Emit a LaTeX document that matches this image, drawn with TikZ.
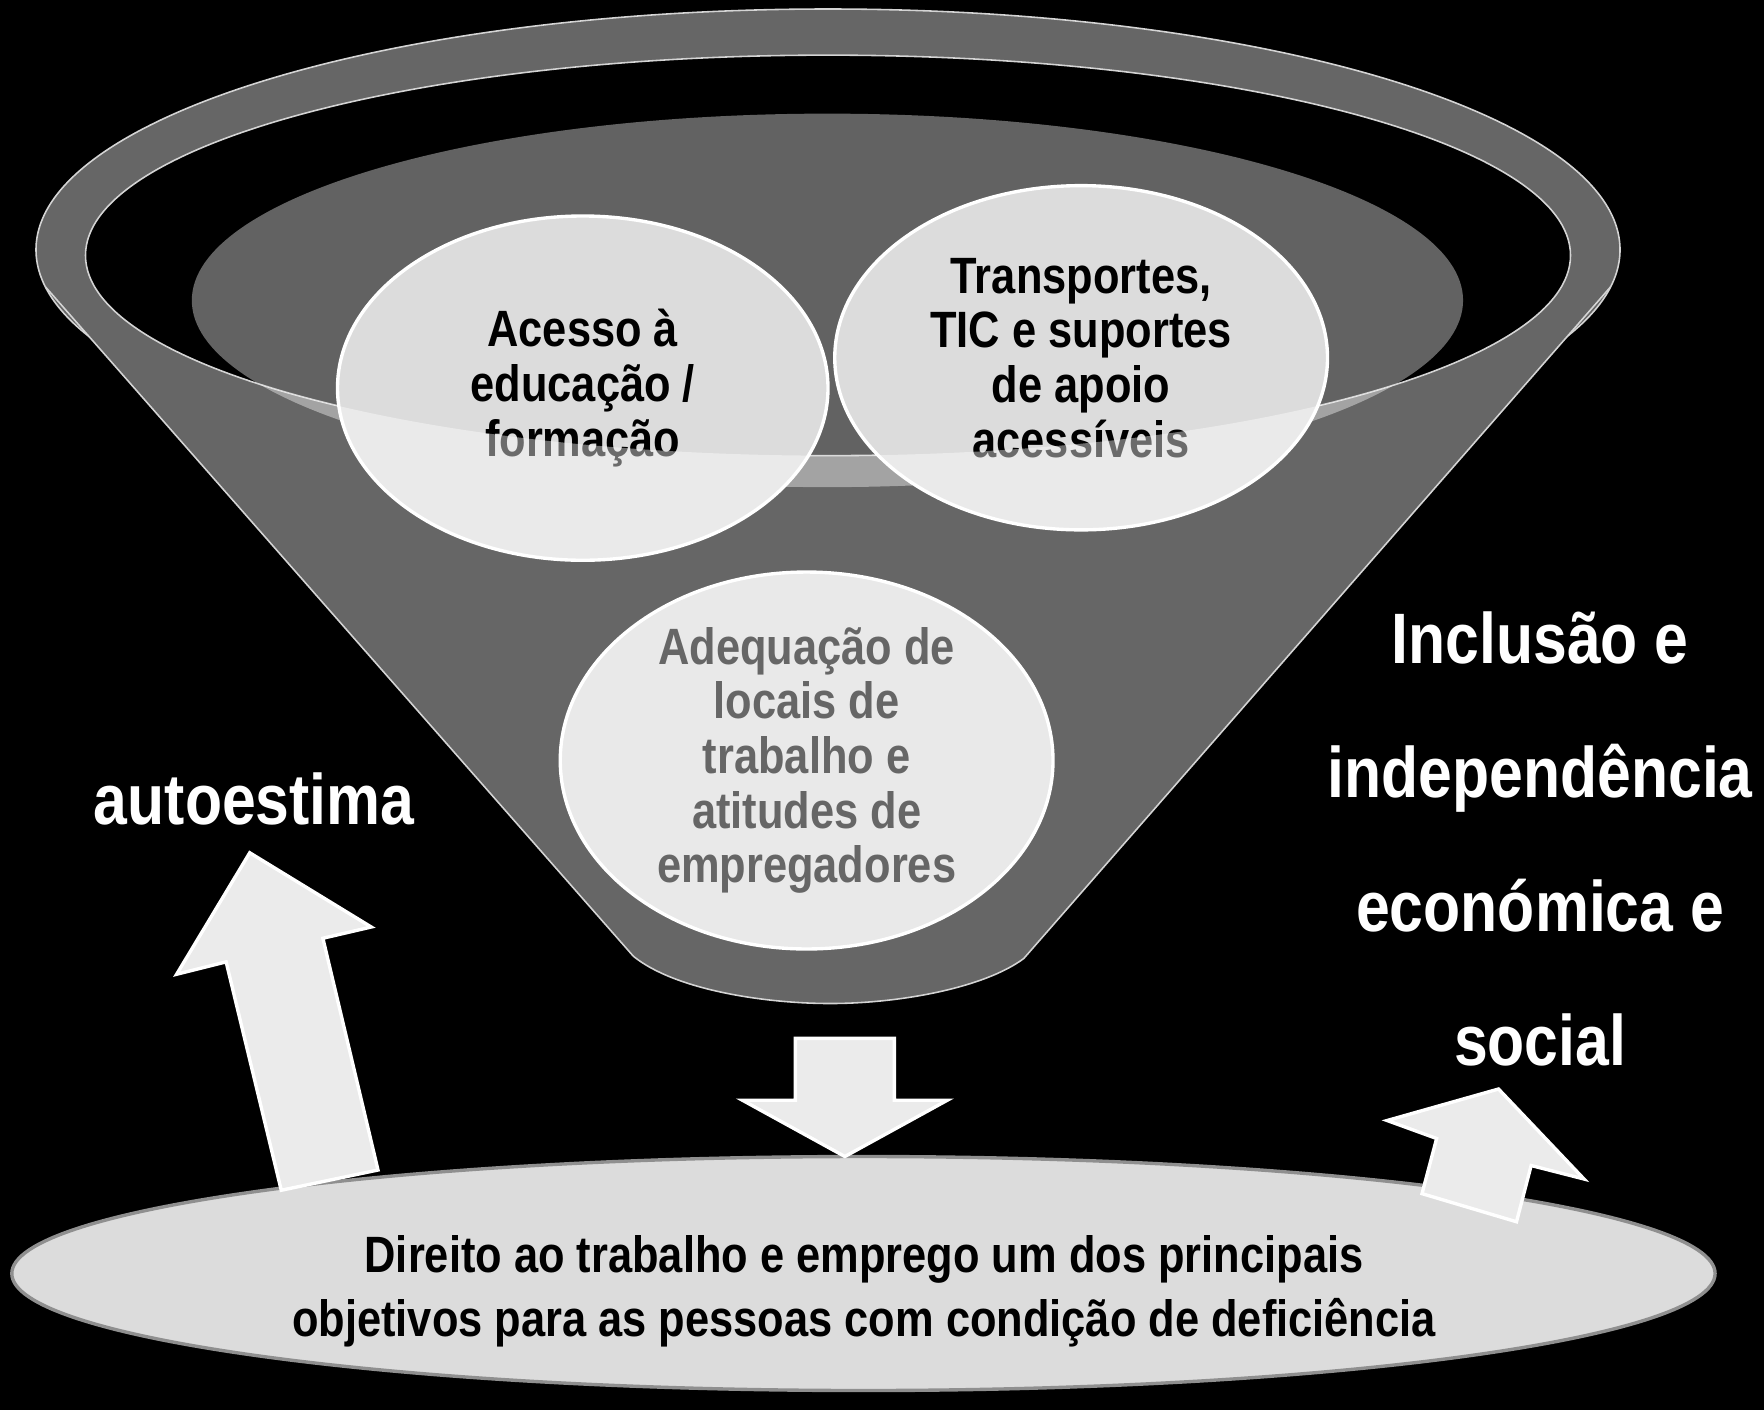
\documentclass[tikz,border=0pt]{standalone}
\usepackage{fontspec}
\setmainfont{Liberation Sans}[FakeStretch=0.85]
\usetikzlibrary{shapes.geometric}
\definecolor{funnelgray}{HTML}{666666}
\definecolor{rimline}{HTML}{D4D4D4}
\definecolor{innergray}{HTML}{626262}
\definecolor{bubblefill}{HTML}{DCDCDC}
\definecolor{bubblelight}{HTML}{E9E9E9}
\definecolor{basefill}{HTML}{DCDCDC}
\definecolor{baseline}{HTML}{8F8F8F}
\definecolor{arrowfill}{HTML}{EBEBEB}
\definecolor{softtext}{HTML}{666666}
\tikzset{
  rim/.style={draw=rimline, line width=0.7pt},
  bubble/.style={ellipse, draw=white, line width=1.5pt, fill=bubblefill, inner sep=0pt,
    align=center, text=black, font=\bfseries\fontsize{22.7}{24.3}\selectfont},
  blockarrow/.style={draw=white, line width=1.5pt, fill=arrowfill, line join=miter},
  biglabel/.style={text=white, align=center, font=\bfseries\fontsize{31.75}{59.5}\selectfont},
}
\begin{document}
\begin{tikzpicture}[x=0.5pt, y=-0.5pt]
\useasboundingbox (0,0) rectangle (1568,1253);
\fill[black] (0,0) rectangle (1568,1253);
% funnel rim and body
\fill[funnelgray] (736,222) ellipse [x radius=704, y radius=214];
\draw[rim] (736,222) ellipse [x radius=704, y radius=214];
\fill[funnelgray] (40.4,255) -- (563,850) .. controls (600,880) and (680,892) .. (738,892)
  .. controls (800,892) and (875,878) .. (910,852) -- (1431.6,255) -- cycle;
\draw[rim] (40.4,255) -- (563,850) .. controls (600,880) and (680,892) .. (738,892)
  .. controls (800,892) and (875,878) .. (910,852) -- (1431.6,255);
% opening
\fill[black] (736,227) ellipse [x radius=660, y radius=178];
\fill[innergray] (735.5,267) ellipse [x radius=565, y radius=166];
\draw[rim] (736,227) ellipse [x radius=660, y radius=178];
% bubbles
\node[bubble, minimum width=218pt, minimum height=153pt] (acesso) at (518,345)
  {Acesso à\\educação /\\formação};
\node[bubble, minimum width=219pt, minimum height=153pt] (transportes) at (961,318)
  {Transportes,\\TIC e suportes\\de apoio\\acessíveis};
% translucent front of the rim
\begin{scope}
  \clip (0,227) -- (76,227) arc [start angle=180, end angle=0, x radius=660, y radius=178]
    -- (1568,227) -- (1568,510) -- (0,510) -- cycle;
  \fill[white, fill opacity=0.42] (735.5,267) ellipse [x radius=565, y radius=166]
    (518,345) ellipse [x radius=218, y radius=153]
    (961,318) ellipse [x radius=219, y radius=153];
\end{scope}
\node[bubble, fill=bubblelight, text=softtext, minimum width=219pt, minimum height=154pt] (adequacao) at (717,676)
  {Adequação de\\locais de\\trabalho e\\atitudes de\\empregadores};
% base
\node[ellipse, draw=baseline, line width=1.5pt, fill=basefill, minimum width=757pt, minimum height=104pt, inner sep=0pt] (base) at (767.5,1132) {};
\node[align=center, font=\bfseries\fontsize{22.7}{28.5}\selectfont] (direito) at (768,1148)
  {Direito ao trabalho e emprego um dos principais\\objetivos para as pessoas com condição de deficiência};
% arrows
\draw[blockarrow] (707,923) -- (795,923) -- (795,978) -- (842,978) -- (751,1028) -- (660,978) -- (707,978) -- cycle;
\draw[blockarrow] (250,1058) -- (201,855) -- (157,866) -- (222,758) -- (330,824) -- (287,834) -- (336,1040) -- cycle;
\draw[blockarrow] (1264,1061) -- (1277,1012) -- (1233,996) -- (1332,968) -- (1408,1048) -- (1361,1036) -- (1348,1086) -- cycle;
% labels
\node[biglabel] (autoestima) at (226,710) {autoestima};
\node[biglabel] (inclusao) at (1369,746) {Inclusão e\\independência\\económica e\\social};
\end{tikzpicture}
\end{document}
